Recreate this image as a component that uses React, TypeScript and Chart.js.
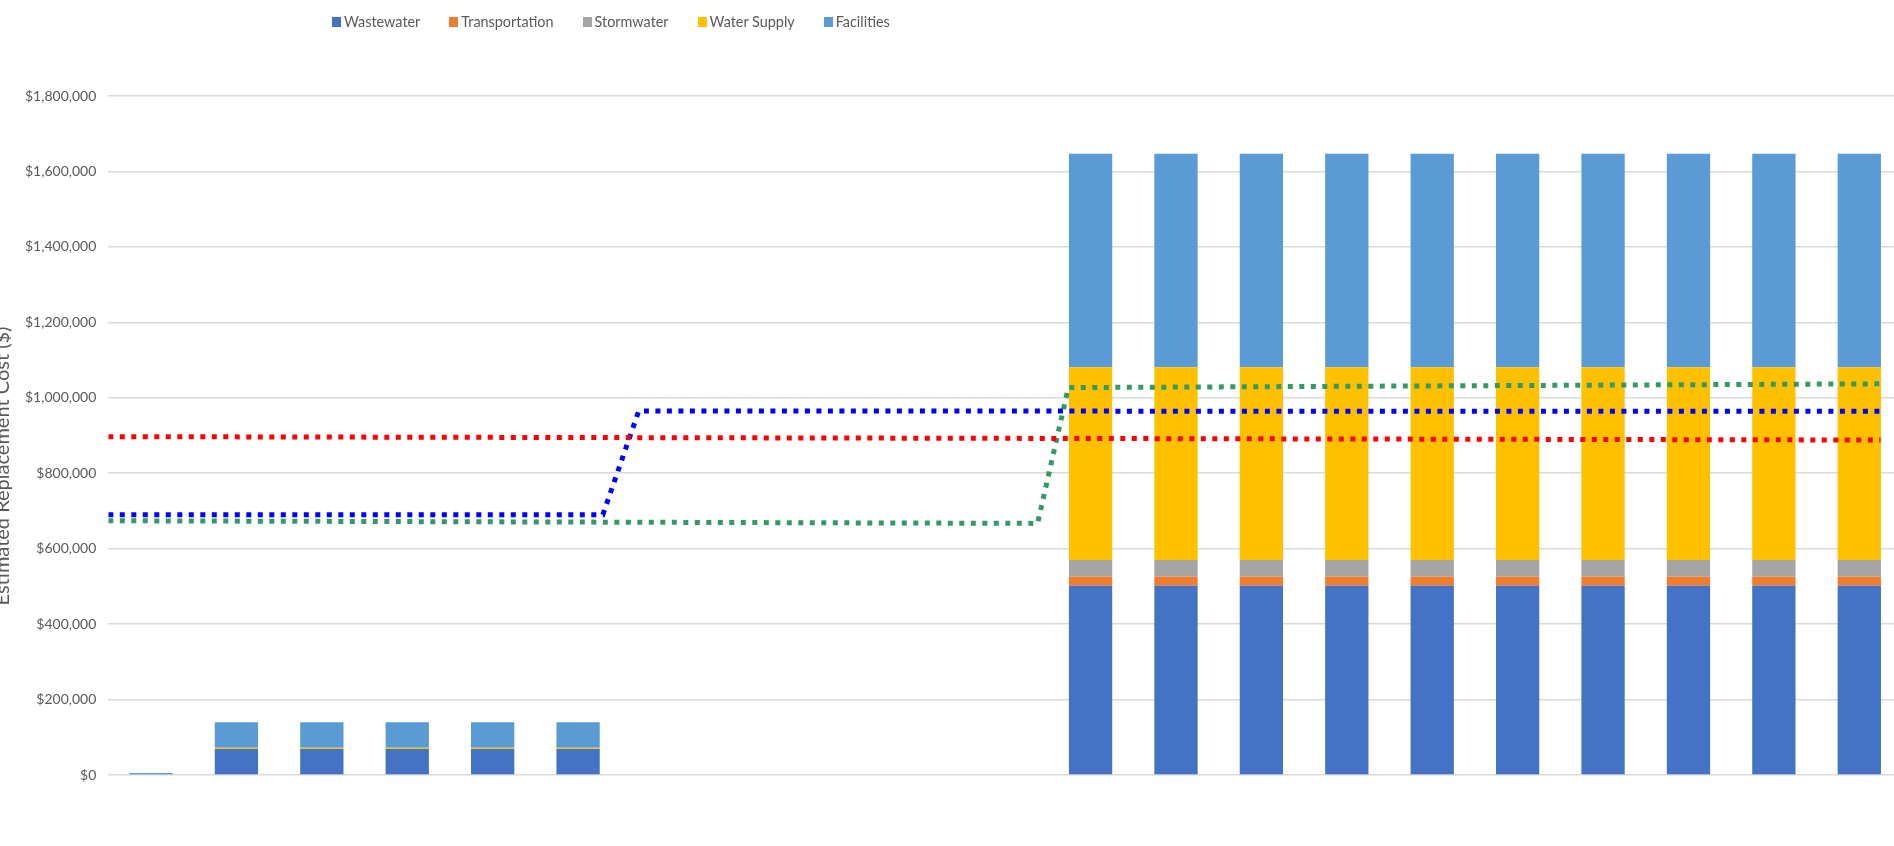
import React, { useEffect, useRef } from 'react';
import { Chart, registerables } from 'chart.js';

Chart.register(...registerables);

// ---- data ----
const categories = ['1', '2', '3', '4', '5', '6', '7', '8', '9', '10', '11', '12', '13', '14', '15', '16', '17', '18', '19', '20', '21'];

const wastewater = [0, 69000, 69000, 69000, 69000, 69000, 0, 0, 0, 0, 0, 502000, 502000, 502000, 502000, 502000, 502000, 502000, 502000, 502000, 502000];
const transportation = [0, 0, 0, 0, 0, 0, 0, 0, 0, 0, 0, 24000, 24000, 24000, 24000, 24000, 24000, 24000, 24000, 24000, 24000];
const stormwater = [0, 0, 0, 0, 0, 0, 0, 0, 0, 0, 0, 44000, 44000, 44000, 44000, 44000, 44000, 44000, 44000, 44000, 44000];
const waterSupply = [0, 3000, 3000, 3000, 3000, 3000, 0, 0, 0, 0, 0, 511000, 511000, 511000, 511000, 511000, 511000, 511000, 511000, 511000, 511000];
const facilities = [5000, 68000, 68000, 68000, 68000, 68000, 0, 0, 0, 0, 0, 566000, 566000, 566000, 566000, 566000, 566000, 566000, 566000, 566000, 566000];

const seriesNames = ['Wastewater', 'Transportation', 'Stormwater', 'Water Supply', 'Facilities'];
const seriesColors = ['#4472C4', '#ED7D31', '#A5A5A5', '#FFC000', '#5B9BD5'];

const yMin = 0;
const yMax = 1800000;
const yStep = 200000;
const yAxisTitle = 'Estimated Replacement Cost ($)';

// threshold lines, x in category units (0 = left edge of plot)
const redLineX = [0, 20.75];
const redLineY = [897000, 888000];
const blueLineX = [0, 5.79, 6.21, 20.75];
const blueLineY = [690000, 690000, 965000, 964000];
const greenLineX = [0, 10.88, 11.24, 20.75];
const greenLineY = [674000, 667000, 1027000, 1037000];

const lineColors = ['#FF0000', '#0000FF', '#339966'];

const FONT = 'Lato, "Open Sans", sans-serif';
const TEXT = '#595959';

function toPoints(xs: number[], ys: number[]) {
  return xs.map((x, i) => ({ x, y: ys[i] }));
}

// y-axis title drawn at the reference's (off-centre, partly clipped) position
const yTitlePlugin = {
  id: 'yTitleText',
  afterDraw(chart: any) {
    const ctx = chart.ctx;
    ctx.save();
    ctx.translate(13.3, 466);
    ctx.rotate(-Math.PI / 2);
    ctx.font = '20px ' + FONT;
    ctx.fillStyle = TEXT;
    ctx.textAlign = 'center';
    ctx.textBaseline = 'alphabetic';
    ctx.fillText(yAxisTitle, 0, 0);
    ctx.restore();
  },
};

export default function App() {
  const canvasRef = useRef<HTMLCanvasElement | null>(null);

  useEffect(() => {
    document.body.style.margin = '0';
    const canvas = canvasRef.current;
    if (!canvas) return;
    const barSeries = [wastewater, transportation, stormwater, waterSupply, facilities];
    const lineSets = [
      toPoints(redLineX, redLineY),
      toPoints(blueLineX, blueLineY),
      toPoints(greenLineX, greenLineY),
    ];
    const chart = new Chart(canvas, {
      type: 'bar',
      data: {
        labels: categories,
        datasets: [
          ...lineSets.map((pts, i) => ({
            type: 'line' as const,
            label: 'line' + i,
            data: pts,
            xAxisID: 'xLine',
            yAxisID: 'yLine',
            borderColor: lineColors[i],
            backgroundColor: lineColors[i],
            borderWidth: 5,
            borderDash: [5, 6.5],
            borderCapStyle: 'butt' as const,
            pointRadius: 0,
            fill: false,
            tension: 0,
            order: -1,
            stack: 'line' + i,
          })),
          ...barSeries.map((vals, i) => ({
            type: 'bar' as const,
            label: seriesNames[i],
            data: vals,
            xAxisID: 'x',
            yAxisID: 'y',
            backgroundColor: seriesColors[i],
            borderWidth: 0,
            stack: 'costs',
            grouped: false,
            barPercentage: 0.507,
            categoryPercentage: 1,
            order: 0,
          })),
        ],
      },
      options: {
        animation: false,
        responsive: false,
        layout: { padding: { top: 96, bottom: 71, left: 0, right: 0 } },
        plugins: { legend: { display: false }, tooltip: { enabled: false } },
        scales: {
          x: {
            type: 'category',
            display: false,
            stacked: true,
            offset: true,
            grid: { display: false },
          },
          xLine: {
            type: 'linear',
            display: false,
            offset: false,
            grid: { offset: false },
            min: 0,
            max: categories.length,
          },
          y: {
            type: 'linear',
            position: 'left',
            stacked: true,
            min: yMin,
            max: yMax,
            ticks: {
              stepSize: yStep,
              padding: 12,
              color: TEXT,
              font: { family: FONT, size: 14 },
              callback: (v: any) => '$' + Number(v).toLocaleString('en-US'),
            },
            grid: { color: '#D9D9D9', lineWidth: 1.5, drawTicks: false },
            border: { display: false },
            title: { display: false },
            afterFit: (s: any) => {
              s.width = 112.3;
            },
          },
          yLine: {
            type: 'linear',
            display: false,
            stacked: false,
            min: yMin,
            max: yMax,
          },
        },
      },
      plugins: [yTitlePlugin],
    } as any);
    return () => chart.destroy();
  }, []);

  return (
    <div style={{ position: 'fixed', left: 0, top: 0, width: '100vw', height: '100vh', overflow: 'hidden', background: '#fff' }}>
      <div style={{ position: 'absolute', left: -4, top: 0, width: 1906, height: 846 }}>
        <canvas ref={canvasRef} width={1906} height={846} style={{ display: 'block' }} />
      </div>
      <div
        style={{
          position: 'absolute',
          left: 332,
          top: 13,
          display: 'flex',
          alignItems: 'center',
          gap: 29,
          fontFamily: FONT,
          fontSize: 14.4,
          color: TEXT,
          lineHeight: '18px',
          whiteSpace: 'nowrap',
        }}
      >
        {seriesNames.map((name, i) => (
          <div key={name} style={{ display: 'flex', alignItems: 'center' }}>
            <span style={{ display: 'inline-block', width: 9, height: 10, background: seriesColors[i], marginRight: 3 }} />
            <span>{name}</span>
          </div>
        ))}
      </div>
    </div>
  );
}
